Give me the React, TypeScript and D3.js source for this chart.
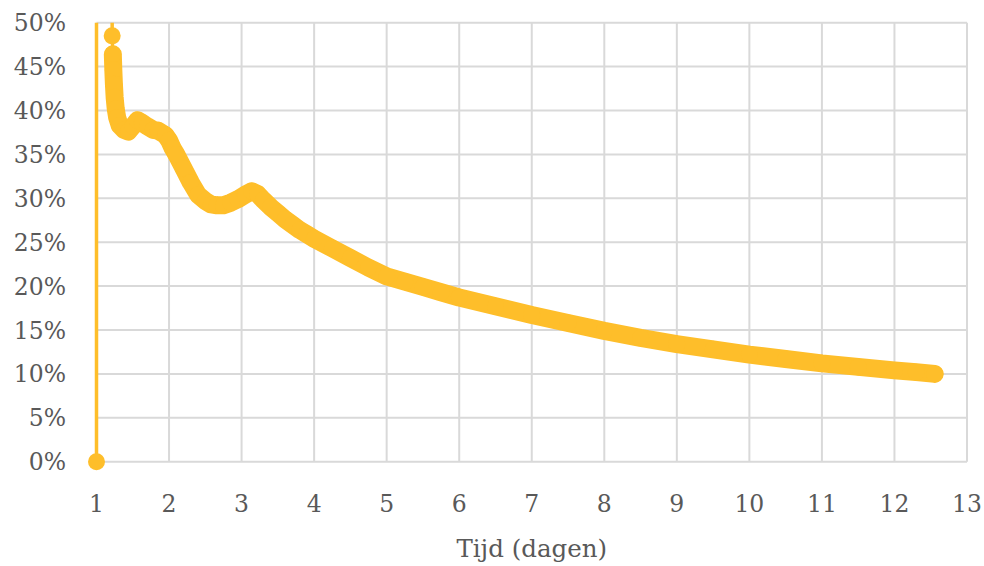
import React from "react";
import * as d3 from "d3";

const X_VALUES = [
  1.0, 1.0, 1.216, 1.216, 1.225, 1.232, 1.24, 1.25, 1.265, 1.285, 1.32, 1.38, 1.44,
  1.5, 1.565, 1.63, 1.7, 1.78, 1.85, 1.95, 2.0, 2.05, 2.1, 2.2, 2.3, 2.4, 2.5,
  2.58, 2.66, 2.75, 2.85, 2.95, 3.05, 3.14, 3.22, 3.3, 3.4, 3.5, 3.6, 3.7, 3.8,
  3.9, 4.0, 4.25, 4.5, 4.75, 5.0, 5.25, 5.5, 5.75, 6.0, 6.5, 7.0, 7.5, 8.0, 8.5,
  9.0, 9.5, 10.0, 10.5, 11.0, 11.5, 12.0, 12.3, 12.555,
];
const Y_VALUES = [
  0.0, 0.9, 0.7, 0.485, 0.464, 0.446, 0.43, 0.415, 0.402, 0.392, 0.383, 0.378, 0.376,
  0.382, 0.389, 0.386, 0.382, 0.378, 0.377, 0.372, 0.366, 0.357, 0.35, 0.334, 0.318, 0.304, 0.297,
  0.293, 0.292, 0.292, 0.295, 0.299, 0.304, 0.308, 0.305, 0.298, 0.29, 0.283, 0.276, 0.27, 0.264,
  0.259, 0.254, 0.243, 0.232, 0.221, 0.211, 0.205, 0.199, 0.193, 0.187, 0.177, 0.167, 0.158, 0.149, 0.141,
  0.134, 0.128, 0.122, 0.117, 0.112, 0.108, 0.104, 0.102, 0.1,
];
const X_TICKS = [1, 2, 3, 4, 5, 6, 7, 8, 9, 10, 11, 12, 13];
const Y_TICKS = [0, 0.05, 0.1, 0.15, 0.2, 0.25, 0.3, 0.35, 0.4, 0.45, 0.5];
const X_TITLE = "Tijd (dagen)";

const W = 984;
const H = 566;
const COLOR = "#FEBE2A";
const GRID = "#D9D9D9";
const TEXT = "#595959";
const FONT = "'DejaVu Serif', serif";

export default function App() {
  const x = d3.scaleLinear().domain([1, 13]).range([96.5, 967]);
  const y = d3.scaleLinear().domain([0, 0.5]).range([461.7, 22.7]);

  const pts: [number, number][] = X_VALUES.map((v, i) => [v, Y_VALUES[i]]);
  const line = d3
    .line<[number, number]>()
    .x((d) => x(d[0]))
    .y((d) => y(d[1]));
  const denseStart = 4;
  const dense = pts.slice(denseStart);
  const visible = pts.filter((d) => d[1] <= 0.5);

  return (
    <svg
      width={W}
      height={H}
      style={{ position: "absolute", left: 0, top: 0, display: "block", background: "#fff" }}
    >
      <defs>
        <clipPath id="plotClip">
          <rect x={0} y={y(0.5)} width={W} height={H - y(0.5)} />
        </clipPath>
      </defs>
      {Y_TICKS.map((t) => (
        <line
          key={"gy" + t}
          x1={x(1)}
          x2={x(13)}
          y1={y(t)}
          y2={y(t)}
          stroke={GRID}
          strokeWidth={2}
        />
      ))}
      {X_TICKS.map((t) => (
        <line
          key={"gx" + t}
          x1={x(t)}
          x2={x(t)}
          y1={y(0)}
          y2={y(0.5)}
          stroke={GRID}
          strokeWidth={2}
        />
      ))}
      {Y_TICKS.map((t) => (
        <text
          key={"ly" + t}
          x={66}
          y={y(t) + 8.5}
          textAnchor="end"
          fontFamily={FONT}
          fontSize={23.5}
          fill={TEXT}
        >
          {Math.round(t * 100) + "%"}
        </text>
      ))}
      {X_TICKS.map((t) => (
        <text
          key={"lx" + t}
          x={x(t)}
          y={512}
          textAnchor="middle"
          fontFamily={FONT}
          fontSize={23.5}
          fill={TEXT}
        >
          {t}
        </text>
      ))}
      <text
        x={(x(1) + x(13)) / 2}
        y={557}
        textAnchor="middle"
        fontFamily={FONT}
        fontSize={24.5}
        fill={TEXT}
      >
        {X_TITLE}
      </text>
      <g clipPath="url(#plotClip)">
        <path d={line(pts) || ""} fill="none" stroke={COLOR} strokeWidth={3.5} strokeLinejoin="round" />
        <path
          d={line(dense) || ""}
          fill="none"
          stroke={COLOR}
          strokeWidth={18}
          strokeLinejoin="round"
          strokeLinecap="round"
        />
      </g>
      {visible.map((d, i) => (
        <circle key={"m" + i} cx={x(d[0])} cy={y(d[1])} r={8.5} fill={COLOR} />
      ))}
    </svg>
  );
}
